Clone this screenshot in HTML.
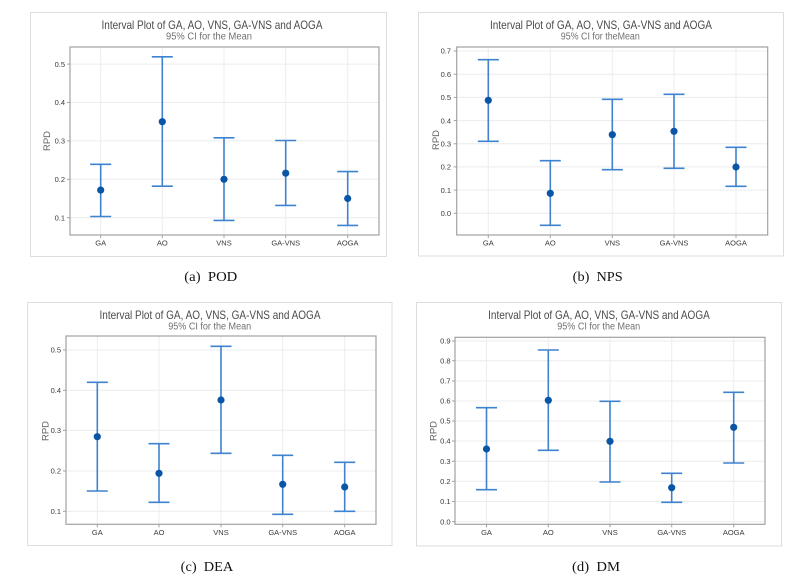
<!DOCTYPE html>
<html><head><meta charset="utf-8"><style>
html,body{margin:0;padding:0;background:#fff;}
svg{display:block;}
.t{font-family:"Liberation Sans",sans-serif;fill:#4a4a4a;font-size:12px;}
.s{font-family:"Liberation Sans",sans-serif;fill:#707070;font-size:10px;}
.yl{font-family:"Liberation Sans",sans-serif;fill:#3a3a3a;font-size:7.5px;text-anchor:end;}
.xl{font-family:"Liberation Sans",sans-serif;fill:#3a3a3a;font-size:7.5px;text-anchor:middle;}
.ax{font-family:"Liberation Sans",sans-serif;fill:#606060;font-size:9.5px;text-anchor:middle;}
.cap{font-family:"Liberation Serif",serif;fill:#111;font-size:13.5px;}
.fr{fill:#fff;stroke:#dedede;stroke-width:1;}
.pb{fill:none;stroke:#a2a2a2;stroke-width:1.2;}
.g{stroke:#ececec;stroke-width:1;}
.tk{stroke:#a2a2a2;stroke-width:1;}
.e{stroke:#3f82cf;stroke-width:1.6;fill:none;}
.d{fill:#0a55a6;}
</style></head><body>
<svg width="807" height="585" viewBox="0 0 807 585" xmlns="http://www.w3.org/2000/svg">
<rect width="807" height="585" fill="#fff"/>

<!-- ===== Panel (a) ===== -->
<rect class="fr" x="30.5" y="12.5" width="356" height="244"/>
<text class="t" x="212" y="29" text-anchor="middle" textLength="221" lengthAdjust="spacingAndGlyphs">Interval Plot of GA, AO, VNS, GA-VNS and AOGA</text>
<text class="s" x="209" y="39.5" text-anchor="middle" textLength="86" lengthAdjust="spacingAndGlyphs">95% CI for the Mean</text>
<g>
<line class="g" x1="70" x2="379" y1="217.7" y2="217.7"/>
<line class="g" x1="70" x2="379" y1="179.3" y2="179.3"/>
<line class="g" x1="70" x2="379" y1="140.9" y2="140.9"/>
<line class="g" x1="70" x2="379" y1="102.5" y2="102.5"/>
<line class="g" x1="70" x2="379" y1="64.1" y2="64.1"/>
<line class="g" x1="100.7" x2="100.7" y1="47" y2="235"/>
<line class="g" x1="162.3" x2="162.3" y1="47" y2="235"/>
<line class="g" x1="224" x2="224" y1="47" y2="235"/>
<line class="g" x1="285.7" x2="285.7" y1="47" y2="235"/>
<line class="g" x1="347.7" x2="347.7" y1="47" y2="235"/>
</g>
<rect class="pb" x="70" y="47" width="309" height="188"/>
<g>
<line class="tk" x1="67" x2="70" y1="217.7" y2="217.7"/><line class="tk" x1="67" x2="70" y1="179.3" y2="179.3"/><line class="tk" x1="67" x2="70" y1="140.9" y2="140.9"/><line class="tk" x1="67" x2="70" y1="102.5" y2="102.5"/><line class="tk" x1="67" x2="70" y1="64.1" y2="64.1"/>
<line class="tk" x1="100.7" x2="100.7" y1="235" y2="238"/><line class="tk" x1="162.3" x2="162.3" y1="235" y2="238"/><line class="tk" x1="224" x2="224" y1="235" y2="238"/><line class="tk" x1="285.7" x2="285.7" y1="235" y2="238"/><line class="tk" x1="347.7" x2="347.7" y1="235" y2="238"/>
</g>
<text class="yl" x="65" y="220.4">0.1</text>
<text class="yl" x="65" y="182">0.2</text>
<text class="yl" x="65" y="143.6">0.3</text>
<text class="yl" x="65" y="105.2">0.4</text>
<text class="yl" x="65" y="66.8">0.5</text>
<text class="xl" x="100.7" y="245.5">GA</text>
<text class="xl" x="162.3" y="245.5">AO</text>
<text class="xl" x="224" y="245.5">VNS</text>
<text class="xl" x="285.7" y="245.5">GA-VNS</text>
<text class="xl" x="347.7" y="245.5">AOGA</text>
<text class="ax" transform="translate(50,141) rotate(-90)">RPD</text>
<g class="e">
<path d="M100.7 164.3V216.5M90.2 164.3H111.2M90.2 216.5H111.2"/>
<path d="M162.3 56.8V186.2M151.8 56.8H172.8M151.8 186.2H172.8"/>
<path d="M224 137.8V220.4M213.5 137.8H234.5M213.5 220.4H234.5"/>
<path d="M285.7 140.5V205.4M275.2 140.5H296.2M275.2 205.4H296.2"/>
<path d="M347.7 171.6V225.4M337.2 171.6H358.2M337.2 225.4H358.2"/>
</g>
<g class="d">
<circle cx="100.7" cy="190.1" r="3.6"/><circle cx="162.3" cy="121.7" r="3.6"/><circle cx="224" cy="179.3" r="3.6"/><circle cx="285.7" cy="173.2" r="3.6"/><circle cx="347.7" cy="198.5" r="3.6"/>
</g>
<text class="cap" x="210.8" y="281" text-anchor="middle" textLength="53" lengthAdjust="spacingAndGlyphs">(a)&#160; POD</text>

<!-- ===== Panel (b) ===== -->
<rect class="fr" x="418.5" y="12.5" width="365" height="243.5"/>
<text class="t" x="601" y="29" text-anchor="middle" textLength="222" lengthAdjust="spacingAndGlyphs">Interval Plot of GA, AO, VNS, GA-VNS and AOGA</text>
<text class="s" x="600.3" y="39.5" text-anchor="middle" textLength="79" lengthAdjust="spacingAndGlyphs">95% CI for theMean</text>
<g>
<line class="g" x1="456.7" x2="767.7" y1="213.3" y2="213.3"/>
<line class="g" x1="456.7" x2="767.7" y1="190.1" y2="190.1"/>
<line class="g" x1="456.7" x2="767.7" y1="166.9" y2="166.9"/>
<line class="g" x1="456.7" x2="767.7" y1="143.8" y2="143.8"/>
<line class="g" x1="456.7" x2="767.7" y1="120.6" y2="120.6"/>
<line class="g" x1="456.7" x2="767.7" y1="97.4" y2="97.4"/>
<line class="g" x1="456.7" x2="767.7" y1="74.2" y2="74.2"/>
<line class="g" x1="456.7" x2="767.7" y1="51" y2="51"/>
<line class="g" x1="488.3" x2="488.3" y1="47" y2="235"/>
<line class="g" x1="550.3" x2="550.3" y1="47" y2="235"/>
<line class="g" x1="612.3" x2="612.3" y1="47" y2="235"/>
<line class="g" x1="674" x2="674" y1="47" y2="235"/>
<line class="g" x1="736" x2="736" y1="47" y2="235"/>
</g>
<rect class="pb" x="456.7" y="47" width="311" height="188"/>
<g>
<line class="tk" x1="453.7" x2="456.7" y1="213.3" y2="213.3"/><line class="tk" x1="453.7" x2="456.7" y1="190.1" y2="190.1"/><line class="tk" x1="453.7" x2="456.7" y1="166.9" y2="166.9"/><line class="tk" x1="453.7" x2="456.7" y1="143.8" y2="143.8"/><line class="tk" x1="453.7" x2="456.7" y1="120.6" y2="120.6"/><line class="tk" x1="453.7" x2="456.7" y1="97.4" y2="97.4"/><line class="tk" x1="453.7" x2="456.7" y1="74.2" y2="74.2"/><line class="tk" x1="453.7" x2="456.7" y1="51" y2="51"/>
<line class="tk" x1="488.3" x2="488.3" y1="235" y2="238"/><line class="tk" x1="550.3" x2="550.3" y1="235" y2="238"/><line class="tk" x1="612.3" x2="612.3" y1="235" y2="238"/><line class="tk" x1="674" x2="674" y1="235" y2="238"/><line class="tk" x1="736" x2="736" y1="235" y2="238"/>
</g>
<text class="yl" x="451" y="216">0.0</text>
<text class="yl" x="451" y="192.8">0.1</text>
<text class="yl" x="451" y="169.6">0.2</text>
<text class="yl" x="451" y="146.5">0.3</text>
<text class="yl" x="451" y="123.3">0.4</text>
<text class="yl" x="451" y="100.1">0.5</text>
<text class="yl" x="451" y="76.9">0.6</text>
<text class="yl" x="451" y="53.7">0.7</text>
<text class="xl" x="488.3" y="245.5">GA</text>
<text class="xl" x="550.3" y="245.5">AO</text>
<text class="xl" x="612.3" y="245.5">VNS</text>
<text class="xl" x="674" y="245.5">GA-VNS</text>
<text class="xl" x="736" y="245.5">AOGA</text>
<text class="ax" transform="translate(439,140) rotate(-90)">RPD</text>
<g class="e">
<path d="M488.3 59.7V141.3M477.8 59.7H498.8M477.8 141.3H498.8"/>
<path d="M550.3 160.7V225.3M539.8 160.7H560.8M539.8 225.3H560.8"/>
<path d="M612.3 99.3V169.7M601.8 99.3H622.8M601.8 169.7H622.8"/>
<path d="M674 94.3V168.3M663.5 94.3H684.5M663.5 168.3H684.5"/>
<path d="M736 147.3V186.3M725.5 147.3H746.5M725.5 186.3H746.5"/>
</g>
<g class="d">
<circle cx="488.3" cy="100.3" r="3.6"/><circle cx="550.3" cy="193.3" r="3.6"/><circle cx="612.3" cy="134.7" r="3.6"/><circle cx="674" cy="131.3" r="3.6"/><circle cx="736" cy="167" r="3.6"/>
</g>
<text class="cap" x="597.7" y="281" text-anchor="middle" textLength="50" lengthAdjust="spacingAndGlyphs">(b)&#160; NPS</text>

<!-- ===== Panel (c) ===== -->
<rect class="fr" x="27.5" y="302.5" width="364.5" height="243"/>
<text class="t" x="210" y="319" text-anchor="middle" textLength="221" lengthAdjust="spacingAndGlyphs">Interval Plot of GA, AO, VNS, GA-VNS and AOGA</text>
<text class="s" x="209.7" y="329.5" text-anchor="middle" textLength="83" lengthAdjust="spacingAndGlyphs">95% CI for the Mean</text>
<g>
<line class="g" x1="66" x2="376" y1="511.3" y2="511.3"/>
<line class="g" x1="66" x2="376" y1="471" y2="471"/>
<line class="g" x1="66" x2="376" y1="430.3" y2="430.3"/>
<line class="g" x1="66" x2="376" y1="390.3" y2="390.3"/>
<line class="g" x1="66" x2="376" y1="350" y2="350"/>
<line class="g" x1="97.3" x2="97.3" y1="336" y2="524.3"/>
<line class="g" x1="159" x2="159" y1="336" y2="524.3"/>
<line class="g" x1="221" x2="221" y1="336" y2="524.3"/>
<line class="g" x1="282.7" x2="282.7" y1="336" y2="524.3"/>
<line class="g" x1="344.7" x2="344.7" y1="336" y2="524.3"/>
</g>
<rect class="pb" x="66" y="336" width="310" height="188.3"/>
<g>
<line class="tk" x1="63" x2="66" y1="511.3" y2="511.3"/><line class="tk" x1="63" x2="66" y1="471" y2="471"/><line class="tk" x1="63" x2="66" y1="430.3" y2="430.3"/><line class="tk" x1="63" x2="66" y1="390.3" y2="390.3"/><line class="tk" x1="63" x2="66" y1="350" y2="350"/>
<line class="tk" x1="97.3" x2="97.3" y1="524.3" y2="527.3"/><line class="tk" x1="159" x2="159" y1="524.3" y2="527.3"/><line class="tk" x1="221" x2="221" y1="524.3" y2="527.3"/><line class="tk" x1="282.7" x2="282.7" y1="524.3" y2="527.3"/><line class="tk" x1="344.7" x2="344.7" y1="524.3" y2="527.3"/>
</g>
<text class="yl" x="61" y="514">0.1</text>
<text class="yl" x="61" y="473.7">0.2</text>
<text class="yl" x="61" y="433">0.3</text>
<text class="yl" x="61" y="393">0.4</text>
<text class="yl" x="61" y="352.7">0.5</text>
<text class="xl" x="97.3" y="535">GA</text>
<text class="xl" x="159" y="535">AO</text>
<text class="xl" x="221" y="535">VNS</text>
<text class="xl" x="282.7" y="535">GA-VNS</text>
<text class="xl" x="344.7" y="535">AOGA</text>
<text class="ax" transform="translate(48.5,431) rotate(-90)">RPD</text>
<g class="e">
<path d="M97.3 382.3V491M86.8 382.3H107.8M86.8 491H107.8"/>
<path d="M159 443.7V502.3M148.5 443.7H169.5M148.5 502.3H169.5"/>
<path d="M221 346.3V453.3M210.5 346.3H231.5M210.5 453.3H231.5"/>
<path d="M282.7 455.3V514.3M272.2 455.3H293.2M272.2 514.3H293.2"/>
<path d="M344.7 462.3V511.3M334.2 462.3H355.2M334.2 511.3H355.2"/>
</g>
<g class="d">
<circle cx="97.3" cy="436.7" r="3.6"/><circle cx="159" cy="473.3" r="3.6"/><circle cx="221" cy="400" r="3.6"/><circle cx="282.7" cy="484.3" r="3.6"/><circle cx="344.7" cy="487" r="3.6"/>
</g>
<text class="cap" x="207" y="571" text-anchor="middle" textLength="52.6" lengthAdjust="spacingAndGlyphs">(c)&#160; DEA</text>

<!-- ===== Panel (d) ===== -->
<rect class="fr" x="416.5" y="302.5" width="365" height="243.5"/>
<text class="t" x="599" y="319" text-anchor="middle" textLength="221.7" lengthAdjust="spacingAndGlyphs">Interval Plot of GA, AO, VNS, GA-VNS and AOGA</text>
<text class="s" x="598.7" y="329.5" text-anchor="middle" textLength="83" lengthAdjust="spacingAndGlyphs">95% CI for the Mean</text>
<g>
<line class="g" x1="455" x2="765" y1="521.7" y2="521.7"/>
<line class="g" x1="455" x2="765" y1="501.5" y2="501.5"/>
<line class="g" x1="455" x2="765" y1="481.3" y2="481.3"/>
<line class="g" x1="455" x2="765" y1="461.3" y2="461.3"/>
<line class="g" x1="455" x2="765" y1="441" y2="441"/>
<line class="g" x1="455" x2="765" y1="421" y2="421"/>
<line class="g" x1="455" x2="765" y1="401" y2="401"/>
<line class="g" x1="455" x2="765" y1="381" y2="381"/>
<line class="g" x1="455" x2="765" y1="360.7" y2="360.7"/>
<line class="g" x1="455" x2="765" y1="341" y2="341"/>
<line class="g" x1="486.5" x2="486.5" y1="337.3" y2="524.3"/>
<line class="g" x1="548.3" x2="548.3" y1="337.3" y2="524.3"/>
<line class="g" x1="610" x2="610" y1="337.3" y2="524.3"/>
<line class="g" x1="671.7" x2="671.7" y1="337.3" y2="524.3"/>
<line class="g" x1="733.7" x2="733.7" y1="337.3" y2="524.3"/>
</g>
<rect class="pb" x="455" y="337.3" width="310" height="187"/>
<g>
<line class="tk" x1="452" x2="455" y1="521.7" y2="521.7"/><line class="tk" x1="452" x2="455" y1="501.5" y2="501.5"/><line class="tk" x1="452" x2="455" y1="481.3" y2="481.3"/><line class="tk" x1="452" x2="455" y1="461.3" y2="461.3"/><line class="tk" x1="452" x2="455" y1="441" y2="441"/><line class="tk" x1="452" x2="455" y1="421" y2="421"/><line class="tk" x1="452" x2="455" y1="401" y2="401"/><line class="tk" x1="452" x2="455" y1="381" y2="381"/><line class="tk" x1="452" x2="455" y1="360.7" y2="360.7"/><line class="tk" x1="452" x2="455" y1="341" y2="341"/>
<line class="tk" x1="486.5" x2="486.5" y1="524.3" y2="527.3"/><line class="tk" x1="548.3" x2="548.3" y1="524.3" y2="527.3"/><line class="tk" x1="610" x2="610" y1="524.3" y2="527.3"/><line class="tk" x1="671.7" x2="671.7" y1="524.3" y2="527.3"/><line class="tk" x1="733.7" x2="733.7" y1="524.3" y2="527.3"/>
</g>
<text class="yl" x="450.5" y="524.4">0.0</text>
<text class="yl" x="450.5" y="504.2">0.1</text>
<text class="yl" x="450.5" y="484">0.2</text>
<text class="yl" x="450.5" y="464">0.3</text>
<text class="yl" x="450.5" y="443.7">0.4</text>
<text class="yl" x="450.5" y="423.7">0.5</text>
<text class="yl" x="450.5" y="403.7">0.6</text>
<text class="yl" x="450.5" y="383.7">0.7</text>
<text class="yl" x="450.5" y="363.4">0.8</text>
<text class="yl" x="450.5" y="343.7">0.9</text>
<text class="xl" x="486.5" y="535">GA</text>
<text class="xl" x="548.3" y="535">AO</text>
<text class="xl" x="610" y="535">VNS</text>
<text class="xl" x="671.7" y="535">GA-VNS</text>
<text class="xl" x="733.7" y="535">AOGA</text>
<text class="ax" transform="translate(436.5,431) rotate(-90)">RPD</text>
<g class="e">
<path d="M486.5 407.7V489.7M476 407.7H497M476 489.7H497"/>
<path d="M548.3 350V450.3M537.8 350H558.8M537.8 450.3H558.8"/>
<path d="M610 401.3V482M599.5 401.3H620.5M599.5 482H620.5"/>
<path d="M671.7 473.3V502.3M661.2 473.3H682.2M661.2 502.3H682.2"/>
<path d="M733.7 392.3V463M723.2 392.3H744.2M723.2 463H744.2"/>
</g>
<g class="d">
<circle cx="486.5" cy="449" r="3.6"/><circle cx="548.3" cy="400.3" r="3.6"/><circle cx="610" cy="441.3" r="3.6"/><circle cx="671.7" cy="487.7" r="3.6"/><circle cx="733.7" cy="427.3" r="3.6"/>
</g>
<text class="cap" x="596" y="571" text-anchor="middle" textLength="48" lengthAdjust="spacingAndGlyphs">(d)&#160; DM</text>
</svg>
</body></html>
